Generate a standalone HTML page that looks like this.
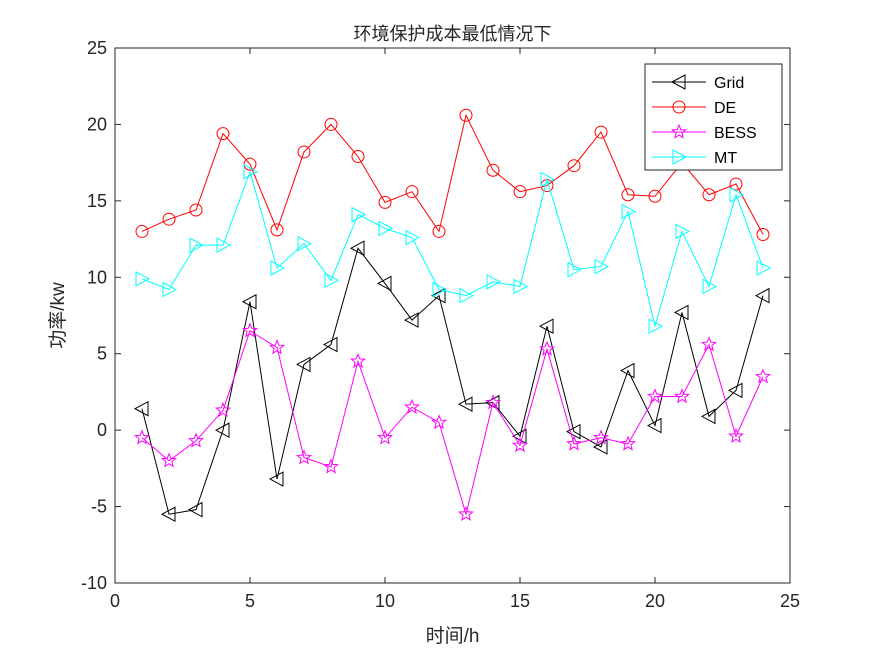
<!DOCTYPE html>
<html><head><meta charset="utf-8"><style>
body{margin:0;background:#fff;}
svg{display:block;font-family:"Liberation Sans","Noto Sans CJK SC",sans-serif;}
</style></head><body>
<svg id="chart" width="875" height="656"></svg>
<script>
const hours=[1,2,3,4,5,6,7,8,9,10,11,12,13,14,15,16,17,18,19,20,21,22,23,24];
const gridVals=[1.4,-5.5,-5.2,0.0,8.4,-3.2,4.3,5.6,11.9,9.6,7.2,8.8,1.7,1.8,-0.4,6.8,-0.1,-1.1,3.9,0.3,7.7,0.9,2.6,8.8];
const deVals=[13.0,13.8,14.4,19.4,17.4,13.1,18.2,20.0,17.9,14.9,15.6,13.0,20.6,17.0,15.6,16.0,17.3,19.5,15.4,15.3,17.5,15.4,16.1,12.8];
const bessVals=[-0.5,-2.0,-0.7,1.3,6.5,5.4,-1.8,-2.4,4.5,-0.5,1.5,0.5,-5.5,1.8,-1.0,5.3,-0.9,-0.5,-0.9,2.2,2.2,5.6,-0.4,3.5];
const mtVals=[9.9,9.2,12.1,12.1,16.9,10.6,12.2,9.8,14.1,13.2,12.6,9.2,8.8,9.7,9.4,16.4,10.5,10.7,14.3,6.8,13.0,9.4,15.4,10.6];
const xTicks=[0,5,10,15,20,25];
const yTicks=[-10,-5,0,5,10,15,20,25];
const NS='http://www.w3.org/2000/svg';
const svg=document.getElementById('chart');
const L=115,R=790,T=48,B=583;
const sx=v=>L+(v-0)/25*(R-L);
const sy=v=>B-(v+10)/35*(B-T);
function mk(tag,attrs,parent){const e=document.createElementNS(NS,tag);for(const k in attrs)e.setAttribute(k,attrs[k]);(parent||svg).appendChild(e);return e;}
const frame=mk('rect',{x:L,y:T,width:R-L,height:B-T,fill:'#fff',stroke:'#262626','stroke-width':1});


xTicks.forEach(v=>{const x=sx(v);
mk('line',{x1:x,y1:B,x2:x,y2:B-6,stroke:'#262626'});mk('line',{x1:x,y1:T,x2:x,y2:T+6,stroke:'#262626'});
const t=mk('text',{x:x,y:B+24,'text-anchor':'middle','font-size':18,fill:'#262626'});t.textContent=v;

});
yTicks.forEach(v=>{const y=sy(v);
mk('line',{x1:L,y1:y,x2:L+6,y2:y,stroke:'#262626'});mk('line',{x1:R,y1:y,x2:R-6,y2:y,stroke:'#262626'});
const t=mk('text',{x:L-8,y:y+6,'text-anchor':'end','font-size':18,fill:'#262626'});t.textContent=v;

});
const title=mk('text',{x:(L+R)/2,y:40,'text-anchor':'middle','font-size':18,fill:'#262626'});title.textContent='环境保护成本最低情况下';


const xt=mk('text',{x:(L+R)/2,y:642,'text-anchor':'middle','font-size':19,fill:'#262626'});xt.textContent='时间/h';


const yt=mk('text',{x:0,y:0,'text-anchor':'middle','font-size':19,fill:'#262626',transform:'translate(64,'+((T+B)/2)+') rotate(-90)'});yt.textContent='功率/kw';


function marker(type,x,y,color,g){
 if(type==='tl')mk('polygon',{points:`${x-7},${y} ${x+6},${y-7} ${x+6},${y+7}`,fill:'none',stroke:color},g);
 else if(type==='tr')mk('polygon',{points:`${x+7},${y} ${x-6},${y-7} ${x-6},${y+7}`,fill:'none',stroke:color},g);
 else if(type==='o')mk('circle',{cx:x,cy:y,r:6,fill:'none',stroke:color},g);
 else {let p=[];for(let i=0;i<10;i++){const r=i%2?3:7,a=-Math.PI/2+i*Math.PI/5;p.push((x+r*Math.cos(a)).toFixed(1)+','+(y+r*Math.sin(a)).toFixed(1));}
  mk('polygon',{points:p.join(' '),fill:'none',stroke:color},g);}
}
const series=[['Grid',gridVals,'#000','tl'],['DE',deVals,'#ff0000','o'],['BESS',bessVals,'#ff00ff','star'],['MT',mtVals,'#00ffff','tr']];
series.forEach(([n,vals,c,m])=>{
 const g=mk('g',{});
 
 
 mk('polyline',{points:vals.map((v,i)=>sx(hours[i])+','+sy(v)).join(' '),fill:'none',stroke:c,'stroke-width':1},g);
 vals.forEach((v,i)=>marker(m,sx(hours[i]),sy(v),c,g));
});
const lg=mk('g',{});


mk('rect',{x:645,y:64,width:137,height:106,fill:'#fff',stroke:'#262626'},lg);
series.forEach(([n,vals,c,m],i)=>{
 const y=82+i*25;
 const e=mk('g',{},lg);
 
 
 mk('line',{x1:652,y1:y,x2:706,y2:y,stroke:c},e);
 marker(m,679,y,c,e);
 const t=mk('text',{x:714,y:y+6,'font-size':16,fill:'#000'},e);t.textContent=n;
});
</script>
</body></html>
